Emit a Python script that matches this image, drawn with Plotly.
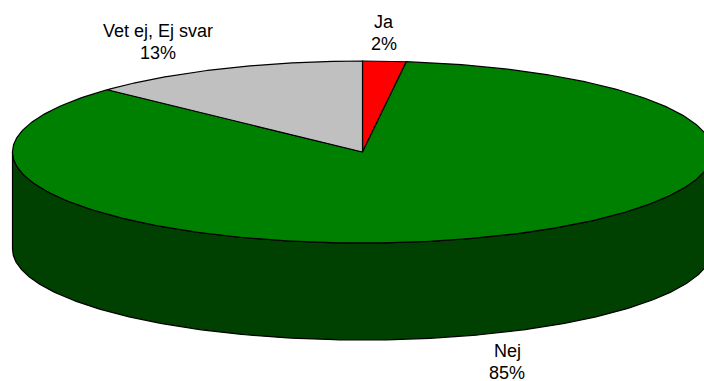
import numpy as np
import plotly.graph_objects as go

categories = ["Ja", "Nej", "Vet ej, Ej svar"]
values = [2, 85, 13]
percent_labels = ["2%", "85%", "13%"]
top_colors = ["#ff0000", "#008000", "#c0c0c0"]
side_colors = ["#800000", "#004000", "#606060"]

W, H = 704, 381
cx, cy, rx, ry, depth = 362.5, 152.0, 350.0, 91.0, 97.0
line = dict(color="#000000", width=1.2)


def ellipse(theta):
    return cx + rx * np.sin(theta), cy - ry * np.cos(theta)


fig = go.Figure()
edges = np.cumsum([0] + values) / sum(values) * 2 * np.pi

# side walls (only the front half of the rim, pi/2 .. 3pi/2, is visible)
for i in range(len(values)):
    a, b = max(edges[i], np.pi / 2), min(edges[i + 1], 3 * np.pi / 2)
    if b <= a:
        continue
    t = np.linspace(a, b, 300)
    x, y = ellipse(t)
    fig.add_trace(go.Scatter(
        x=np.r_[x, x[::-1], x[0]], y=np.r_[y, y[::-1] + depth, y[0]],
        mode="lines", fill="toself", fillcolor=side_colors[i], line=line,
        hoverinfo="skip", showlegend=False))

# top faces
for i in range(len(values)):
    t = np.linspace(edges[i], edges[i + 1], 400)
    x, y = ellipse(t)
    fig.add_trace(go.Scatter(
        x=np.r_[cx, x, cx], y=np.r_[cy, y, cy],
        mode="lines", fill="toself", fillcolor=top_colors[i], line=line,
        name=categories[i], hoverinfo="skip", showlegend=False))

label_xy = [(384, 22), (507, 351), (157.5, 31)]
line_gap = 22
font = dict(family="Liberation Sans, Arial", size=18, color="#000000")
for c, p, (lx, ly) in zip(categories, percent_labels, label_xy):
    fig.add_annotation(x=lx, y=ly, text=c, showarrow=False, font=font)
    fig.add_annotation(x=lx, y=ly + line_gap, text=p, showarrow=False, font=font)

fig.update_layout(
    width=W, height=H, margin=dict(l=0, r=0, t=0, b=0),
    paper_bgcolor="#ffffff", plot_bgcolor="#ffffff", showlegend=False,
    xaxis=dict(range=[0, W], visible=False, fixedrange=True),
    yaxis=dict(range=[H, 0], visible=False, fixedrange=True),
)
fig.write_html("out.html", config=dict(displayModeBar=False),
               post_script="document.body.style.margin='0';document.documentElement.style.overflow='hidden';")
